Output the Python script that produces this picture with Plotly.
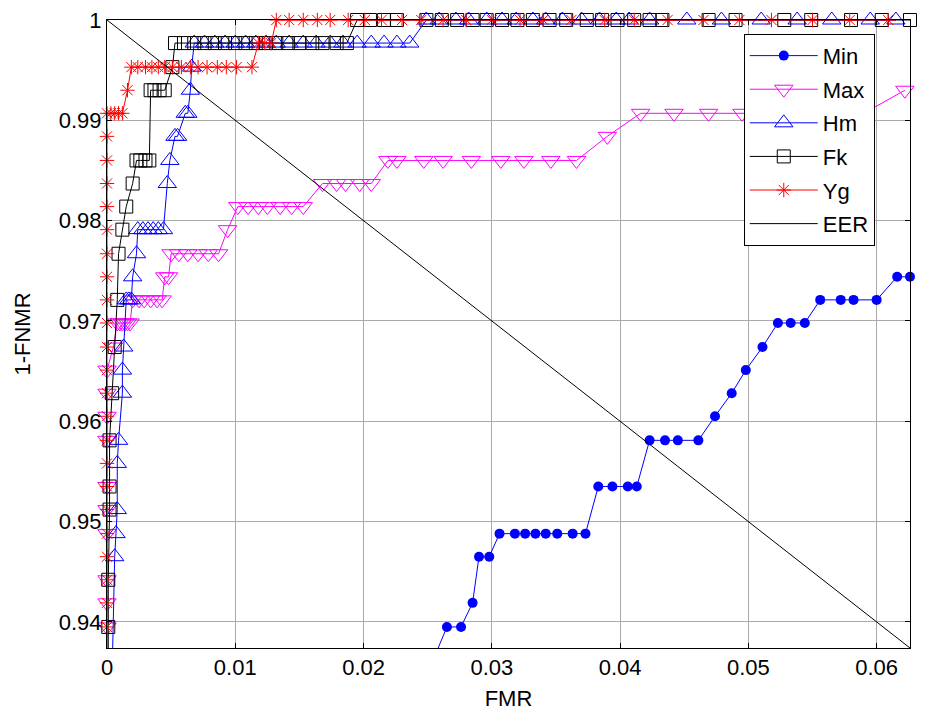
import numpy as np
import plotly.graph_objects as go

# ---- data: FMR (x) and 1-FNMR (y) for each matcher ----
min_x = [0.0250, 0.0265, 0.0276, 0.0285, 0.0290, 0.0298, 0.0306, 0.0318, 0.0326, 0.0334,
         0.0342, 0.0351, 0.0363, 0.0373, 0.0383, 0.0394, 0.0406, 0.0413, 0.0423, 0.0435,
         0.0445, 0.0461, 0.0474, 0.0487, 0.0498, 0.0511, 0.0523, 0.0533, 0.0544, 0.0556,
         0.0572, 0.0582, 0.0600, 0.0616, 0.0626]
min_y = [0.9349, 0.9395, 0.9395, 0.9419, 0.9465, 0.9465, 0.9488, 0.9488, 0.9488, 0.9488,
         0.9488, 0.9488, 0.9488, 0.9488, 0.9535, 0.9535, 0.9535, 0.9535, 0.9581, 0.9581,
         0.9581, 0.9581, 0.9605, 0.9628, 0.9651, 0.9674, 0.9698, 0.9698, 0.9698, 0.9721,
         0.9721, 0.9721, 0.9721, 0.9744, 0.9744]

max_x = [0.0, 0.0, 0.0, 0.0, 0.0, 0.0, 0.0, 0.0, 0.0, 0.0, 0.0,
         0.0005,
         0.0008, 0.0010, 0.0012, 0.0014, 0.0016, 0.0018,
         0.0020, 0.0025, 0.0029, 0.0034, 0.0039, 0.0043,
         0.0045, 0.0048,
         0.0050, 0.0056, 0.0063, 0.0071, 0.0079, 0.0087,
         0.0094,
         0.0102, 0.0110, 0.0118, 0.0125, 0.0135, 0.0144, 0.0153,
         0.0168, 0.0179, 0.0186, 0.0197, 0.0206,
         0.0219, 0.0226, 0.0247, 0.0262, 0.0284, 0.0307, 0.0325, 0.0346, 0.0366,
         0.0390,
         0.0416, 0.0442, 0.0469, 0.0495, 0.0525, 0.0560, 0.0590,
         0.0622]
max_y = [0.9349, 0.9395, 0.9419, 0.9442, 0.9488, 0.9512, 0.9535, 0.9581, 0.9605, 0.9628, 0.9651,
         0.9674,
         0.9698, 0.9698, 0.9698, 0.9698, 0.9698, 0.9698,
         0.9721, 0.9721, 0.9721, 0.9721, 0.9721, 0.9721,
         0.9744, 0.9744,
         0.9767, 0.9767, 0.9767, 0.9767, 0.9767, 0.9767,
         0.9791,
         0.9814, 0.9814, 0.9814, 0.9814, 0.9814, 0.9814, 0.9814,
         0.9837, 0.9837, 0.9837, 0.9837, 0.9837,
         0.9860, 0.9860, 0.9860, 0.9860, 0.9860, 0.9860, 0.9860, 0.9860, 0.9860,
         0.9884,
         0.9907, 0.9907, 0.9907, 0.9907, 0.9907, 0.9907, 0.9907,
         0.9930]

hm_x = [0.0004, 0.0006, 0.0007, 0.0008, 0.0008, 0.0009, 0.0012, 0.0012, 0.0013,
        0.0015, 0.0017, 0.0019, 0.0020, 0.0023,
        0.0024, 0.0028, 0.0032, 0.0036, 0.0040, 0.0044,
        0.0047, 0.0049, 0.0053, 0.0055, 0.0061, 0.0063, 0.0065, 0.0066,
        0.0068, 0.0076, 0.0084, 0.0092, 0.0100, 0.0108, 0.0116, 0.0124, 0.0132, 0.0142,
        0.0153, 0.0163, 0.0174, 0.0184, 0.0195, 0.0206, 0.0216, 0.0226, 0.0236,
        0.0249, 0.0259, 0.0272, 0.0282, 0.0296, 0.0308, 0.0319, 0.0332, 0.0342, 0.0355,
        0.0370, 0.0384, 0.0397, 0.0407, 0.0423, 0.0452, 0.0479, 0.0510, 0.0538, 0.0565,
        0.0595, 0.0615]
hm_y = [0.9349, 0.9465, 0.9488, 0.9512, 0.9558, 0.9581, 0.9628, 0.9651, 0.9674,
        0.9721, 0.9721, 0.9721, 0.9744, 0.9767,
        0.9791, 0.9791, 0.9791, 0.9791, 0.9791, 0.9791,
        0.9837, 0.9860, 0.9884, 0.9884, 0.9907, 0.9907, 0.9930, 0.9953,
        0.9977, 0.9977, 0.9977, 0.9977, 0.9977, 0.9977, 0.9977, 0.9977, 0.9977, 0.9977,
        0.9977, 0.9977, 0.9977, 0.9977, 0.9977, 0.9977, 0.9977, 0.9977, 0.9977,
        1.0, 1.0, 1.0, 1.0, 1.0, 1.0, 1.0, 1.0, 1.0, 1.0,
        1.0, 1.0, 1.0, 1.0, 1.0, 1.0, 1.0, 1.0, 1.0, 1.0,
        1.0, 1.0]

fk_x = [0.0001, 0.0001, 0.0001, 0.0002, 0.0002, 0.0002, 0.0004, 0.0006, 0.0008, 0.0009,
        0.0012, 0.0015, 0.0020,
        0.0023, 0.0026, 0.0030, 0.0033,
        0.0034, 0.0037, 0.0041, 0.0045,
        0.0051,
        0.0053, 0.0060, 0.0068, 0.0076, 0.0084, 0.0092, 0.0100, 0.0108, 0.0116, 0.0124,
        0.0132, 0.0141, 0.0150, 0.0160, 0.0168, 0.0179, 0.0187,
        0.0195, 0.0205, 0.0216, 0.0226, 0.0249, 0.0261, 0.0273, 0.0285, 0.0296, 0.0308,
        0.0320, 0.0332, 0.0345, 0.0358, 0.0374, 0.0386, 0.0398, 0.0411, 0.0423, 0.0433,
        0.0469, 0.0490, 0.0528, 0.0549, 0.0580, 0.0604, 0.0626]
fk_y = [0.9349, 0.9395, 0.9442, 0.9512, 0.9535, 0.9581, 0.9628, 0.9674, 0.9721, 0.9767,
        0.9791, 0.9814, 0.9837,
        0.9860, 0.9860, 0.9860, 0.9860,
        0.9930, 0.9930, 0.9930, 0.9930,
        0.9953,
        0.9977, 0.9977, 0.9977, 0.9977, 0.9977, 0.9977, 0.9977, 0.9977, 0.9977, 0.9977,
        0.9977, 0.9977, 0.9977, 0.9977, 0.9977, 0.9977, 0.9977,
        1.0, 1.0, 1.0, 1.0, 1.0, 1.0, 1.0, 1.0, 1.0, 1.0,
        1.0, 1.0, 1.0, 1.0, 1.0, 1.0, 1.0, 1.0, 1.0, 1.0,
        1.0, 1.0, 1.0, 1.0, 1.0, 1.0, 1.0]

yg_x = [0.0, 0.0, 0.0, 0.0, 0.0, 0.0, 0.0, 0.0, 0.0, 0.0, 0.0, 0.0, 0.0,
        0.0, 0.0, 0.0, 0.0, 0.0, 0.0, 0.0, 0.0, 0.0, 0.0, 0.0,
        0.0, 0.0003, 0.0006, 0.0009, 0.0012,
        0.0016,
        0.0019, 0.0024, 0.0030, 0.0035, 0.0040, 0.0045, 0.0051, 0.0058, 0.0065, 0.0071,
        0.0078, 0.0086, 0.0093, 0.0101, 0.0113,
        0.0118, 0.0123, 0.0128,
        0.0132, 0.0142, 0.0153, 0.0164, 0.0174, 0.0188, 0.0201, 0.0214, 0.0230, 0.0245,
        0.0262, 0.0280, 0.0300, 0.0322, 0.0340, 0.0362, 0.0388, 0.0411, 0.0437, 0.0465,
        0.0493, 0.0518, 0.0550, 0.0579, 0.0609]
yg_y = [0.9349, 0.9372, 0.9395, 0.9419, 0.9442, 0.9465, 0.9488, 0.9512, 0.9535, 0.9558,
        0.9581, 0.9605, 0.9628, 0.9651, 0.9674, 0.9698, 0.9721, 0.9744, 0.9767, 0.9791,
        0.9814, 0.9837, 0.9860, 0.9884,
        0.9907, 0.9907, 0.9907, 0.9907, 0.9907,
        0.9930,
        0.9953, 0.9953, 0.9953, 0.9953, 0.9953, 0.9953, 0.9953, 0.9953, 0.9953, 0.9953,
        0.9953, 0.9953, 0.9953, 0.9953, 0.9953,
        0.9977, 0.9977, 0.9977,
        1.0, 1.0, 1.0, 1.0, 1.0, 1.0, 1.0, 1.0, 1.0, 1.0,
        1.0, 1.0, 1.0, 1.0, 1.0, 1.0, 1.0, 1.0, 1.0, 1.0,
        1.0, 1.0, 1.0, 1.0, 1.0]

# equal error rate reference line: 1-FNMR = 1 - FMR
eer_x = [0.0, 0.0626]
eer_y = [1.0, 0.9374]

x_ticks = [0.0, 0.01, 0.02, 0.03, 0.04, 0.05, 0.06]
x_ticktext = ["0", "0.01", "0.02", "0.03", "0.04", "0.05", "0.06"]
y_ticks = [0.94, 0.95, 0.96, 0.97, 0.98, 0.99, 1.0]
y_ticktext = ["0.94", "0.95", "0.96", "0.97", "0.98", "0.99", "1"]

X_RANGE = [0.0, 0.0626]
Y_RANGE = [0.9374, 1.0]

FONT = "Liberation Sans, Arial, sans-serif"

series = [
    ("Min", min_x, min_y, "#0000ff", dict(symbol="circle", size=10, color="#0000ff",
                                         line=dict(width=0))),
    ("Max", max_x, max_y, "#ff00ff", dict(symbol="triangle-down-open", size=16,
                                         color="#ff00ff", line=dict(width=1))),
    ("Hm", hm_x, hm_y, "#0000ff", dict(symbol="triangle-up-open", size=16,
                                       color="#0000ff", line=dict(width=1))),
    ("Fk", fk_x, fk_y, "#000000", dict(symbol="square-open", size=13,
                                       color="#000000", line=dict(width=1))),
    ("Yg", yg_x, yg_y, "#ff0000", dict(symbol="asterisk-open", size=12,
                                       color="#ff0000", line=dict(width=1, color="#ff0000"))),
]

fig = go.Figure()

for i, (name, xs, ys, col, mk) in enumerate(series):
    xs = np.asarray(xs)
    ys = np.asarray(ys)
    # full curve (segments leaving the axes are clipped)
    fig.add_trace(go.Scatter(x=xs, y=ys, mode="lines", showlegend=False,
                             line=dict(color=col, width=1), hoverinfo="skip"))
    # markers for points inside the axes, drawn unclipped
    inside = ys >= Y_RANGE[0]
    fig.add_trace(go.Scatter(x=xs[inside], y=ys[inside], mode="markers", showlegend=False,
                             marker=mk, cliponaxis=False))
    # legend entry
    fig.add_trace(go.Scatter(x=[None], y=[None], mode="lines+markers", name=name,
                             legendgroup=name, line=dict(color=col, width=1), marker=mk))

fig.add_trace(go.Scatter(x=eer_x, y=eer_y, mode="lines", name="EER", legendgroup="EER",
                         line=dict(color="#000000", width=1)))

axis_common = dict(
    showline=True, linecolor="#000000", linewidth=1, mirror="ticks",
    ticks="inside", ticklen=5, tickcolor="#000000", tickwidth=1,
    showgrid=True, gridcolor="#aaaaaa", gridwidth=1, zeroline=False,
    tickfont=dict(family=FONT, size=22, color="#000000"),
    automargin=False,
)

fig.update_layout(
    width=927, height=714,
    margin=dict(l=107, r=17, t=20, b=66),
    paper_bgcolor="#ffffff", plot_bgcolor="#ffffff",
    font=dict(family=FONT, size=22, color="#000000"),
    xaxis=dict(range=X_RANGE, tickvals=x_ticks, ticktext=x_ticktext,
               title=dict(text="FMR", standoff=11, font=dict(family=FONT, size=22)),
               **axis_common),
    yaxis=dict(range=Y_RANGE, tickvals=y_ticks, ticktext=y_ticktext,
               title=dict(text="1-FNMR", standoff=22, font=dict(family=FONT, size=22)),
               **axis_common),
    legend=dict(x=0.793, y=0.978, xanchor="left", yanchor="top",
                bgcolor="#ffffff", bordercolor="#000000", borderwidth=1,
                font=dict(family=FONT, size=22, color="#000000"),
                itemwidth=68, tracegroupgap=2),
    showlegend=True,
)

fig.write_html("out.html")
